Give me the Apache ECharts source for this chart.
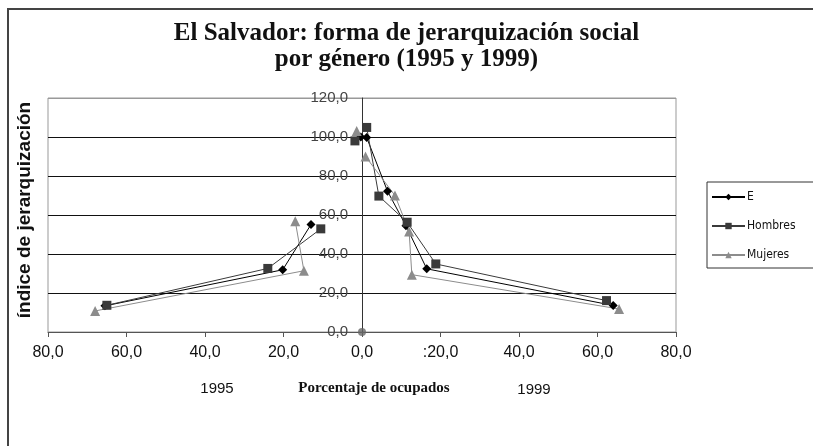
<!DOCTYPE html>
<html>
<head>
<meta charset="utf-8">
<style>
	html, body { margin: 0; padding: 0; background: #fff; }
	#chart { width: 813px; height: 446px; }
</style>
<script src="https://cdn.jsdelivr.net/npm/echarts@6/dist/echarts.min.js"></script>
</head>
<body>
<div id="chart"></div>
<script>
// [x, y] pares: x negativo = 1995, x positivo = 1999
const eTop1995 = [[-0.3, 100.0]];
const eLow1995 = [[-13.0, 55.1], [-20.2, 31.9], [-65.5, 13.4]];
const e1999 = [[1.2, 99.7], [6.5, 72.2], [11.2, 54.5], [16.5, 32.4], [64.0, 13.6]];

const hombresTop1995 = [[-1.8, 98.0]];
const hombresLow1995 = [[-10.5, 52.9], [-24.0, 32.6], [-65.0, 13.7]];
const hombres1999 = [[1.2, 104.9], [4.3, 69.7], [11.5, 56.3], [18.8, 34.9], [62.3, 16.1]];

const mujeresTop1995 = [[-1.35, 103.1]];
const mujeresLow1995 = [[-17.0, 56.8], [-14.8, 31.4], [-68.0, 10.8]];
const mujeres1999 = [[0.9, 90.0], [8.4, 70.0], [12.0, 51.6], [12.7, 29.4], [65.5, 11.8]];

const origen = [[0, 0]];

const xTickLabels = ["80,0", "60,0", "40,0", "20,0", "0,0", ":20,0", "40,0", "60,0", "80,0"];
const yTickLabels = ["0,0", "20,0", "40,0", "60,0", "80,0", "100,0", "120,0"];

const styles = {
	E: { color: "#000", symbol: "diamond", size: 9 },
	Hombres: { color: "#3a3a3a", symbol: "rect", size: 9 },
	Mujeres: { color: "#8c8c8c", symbol: "triangle", size: 10 },
};

function line(name, data) {
	const s = styles[name];
	return {
		name: name,
		type: "line",
		data: data,
		symbol: s.symbol,
		symbolSize: s.size,
		showSymbol: true,
		itemStyle: { color: s.color },
		lineStyle: { color: s.color, width: 1 },
		emphasis: { disabled: true },
		z: 3,
	};
}

const chart = echarts.init(document.getElementById("chart"));

chart.setOption({
	animation: false,
	title: {
		text: "El Salvador: forma de jerarquización social\npor género (1995 y 1999)",
		left: "center",
		top: 16,
		textStyle: {
			fontFamily: "Liberation Serif",
			fontWeight: "bold",
			fontSize: 25,
			lineHeight: 26,
			color: "#111",
		},
	},
	legend: {
		orient: "vertical",
		left: 707,
		top: 182,
		data: ["E", "Hombres", "Mujeres"],
		itemWidth: 33,
		itemHeight: 8,
		itemGap: 17,
		padding: [9, 20, 7, 4],
		borderColor: "#333",
		borderWidth: 1,
		textStyle: {
			fontFamily: "'DejaVu Sans Condensed', 'Liberation Sans', sans-serif",
			fontSize: 12,
			color: "#111",
			padding: [0, 0, 0, -3],
		},
	},
	grid: {
		left: 48,
		right: 137,
		top: 98,
		bottom: 114,
		show: true,
		borderColor: "#999",
		borderWidth: 1,
		backgroundColor: "transparent",
	},
	xAxis: {
		type: "value",
		min: -80,
		max: 80,
		interval: 20,
		axisLine: { onZero: false, lineStyle: { color: "#555", width: 1 } },
		axisTick: { show: true, length: 5, lineStyle: { color: "#555" } },
		splitLine: { show: false },
		axisLabel: {
			margin: 13,
			fontFamily: "Liberation Sans",
			fontSize: 16,
			color: "#111",
			formatter: (v) => xTickLabels[Math.round((v + 80) / 20)],
		},
	},
	yAxis: {
		type: "value",
		min: 0,
		max: 120,
		interval: 20,
		position: "left",
		offset: -314,
		axisLine: { show: true, onZero: false, lineStyle: { color: "#333", width: 1 } },
		axisTick: { show: false },
		splitLine: {
			show: true,
			lineStyle: { color: ["#999", "#111", "#111", "#111", "#111", "#111", "#999"], width: 1 },
		},
		axisLabel: {
			margin: 14,
			fontFamily: "Liberation Sans",
			fontSize: 15,
			color: "#444",
			formatter: (v) => yTickLabels[Math.round(v / 20)],
		},
	},
	graphic: [
		{
			type: "rect",
			shape: { x: 8, y: 9, width: 900, height: 500 },
			style: { fill: "none", stroke: "#444", lineWidth: 2 },
			silent: true,
		},
		{
			type: "text",
			x: 25,
			y: 210,
			rotation: Math.PI / 2,
			style: {
				text: "índice de jerarquización",
				font: "bold 19px 'Liberation Sans'",
				fill: "#111",
				textAlign: "center",
				textVerticalAlign: "middle",
			},
		},
		{
			type: "text",
			x: 217,
			y: 389,
			style: {
				text: "1995",
				font: "15px 'Liberation Sans'",
				fill: "#111",
				textAlign: "center",
				textVerticalAlign: "middle",
			},
		},
		{
			type: "text",
			x: 374,
			y: 388,
			style: {
				text: "Porcentaje de ocupados",
				font: "bold 15px 'Liberation Serif'",
				fill: "#111",
				textAlign: "center",
				textVerticalAlign: "middle",
			},
		},
		{
			type: "text",
			x: 534,
			y: 390,
			style: {
				text: "1999",
				font: "15px 'Liberation Sans'",
				fill: "#111",
				textAlign: "center",
				textVerticalAlign: "middle",
			},
		},
	],
	series: [
		line("E", eTop1995),
		line("E", eLow1995),
		line("E", e1999),
		line("Hombres", hombresTop1995),
		line("Hombres", hombresLow1995),
		line("Hombres", hombres1999),
		line("Mujeres", mujeresTop1995),
		line("Mujeres", mujeresLow1995),
		line("Mujeres", mujeres1999),
		{
			name: "origen",
			type: "scatter",
			data: origen,
			symbol: "circle",
			symbolSize: 8,
			itemStyle: { color: "#666" },
			z: 4,
		},
	],
});
</script>
</body>
</html>
